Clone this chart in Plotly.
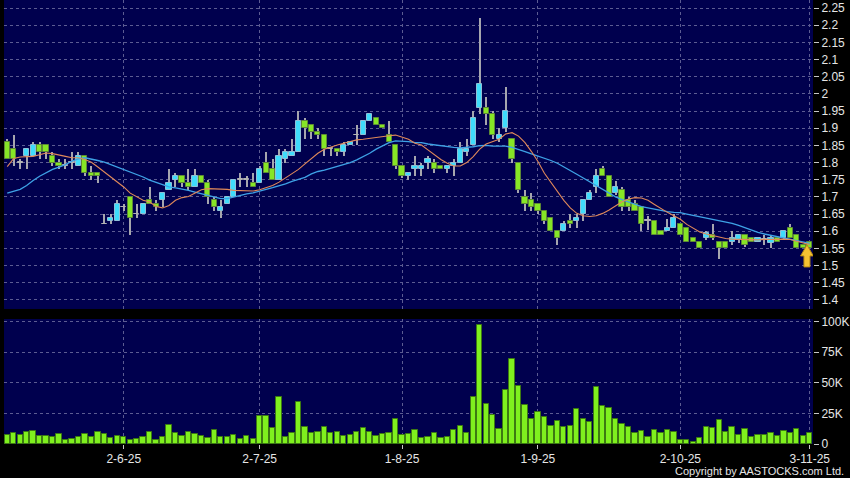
import pandas as pd
import plotly.graph_objects as go

# ---------------- data ----------------
holidays = ["2025-07-01", "2025-10-01", "2025-10-07", "2025-10-29"]
dates = [d.strftime("%Y-%m-%d") for d in pd.bdate_range("2025-05-07", "2025-11-03")
         if d.strftime("%Y-%m-%d") not in holidays]

open_ = [
    1.86, 1.84, 1.80, 1.82, 1.82, 1.85, 1.85, 1.82, 1.80, 1.79,
    1.80, 1.79, 1.82, 1.77, 1.77, 1.62, 1.63, 1.63, 1.67, 1.70,
    1.65, 1.65, 1.69, 1.68, 1.69, 1.72, 1.75, 1.76, 1.74, 1.73,
    1.76, 1.74, 1.69, 1.66, 1.68, 1.70, 1.75, 1.75, 1.74, 1.74,
    1.80, 1.78, 1.75, 1.81, 1.82, 1.83, 1.92, 1.91, 1.89, 1.88,
    1.84, 1.84, 1.83, 1.85, 1.88, 1.88, 1.92, 1.93, 1.91, 1.88,
    1.85, 1.79, 1.76, 1.78, 1.78, 1.80, 1.80, 1.79, 1.78, 1.79,
    1.80, 1.83, 1.85, 1.96, 1.96, 1.94, 1.87, 1.90, 1.87, 1.80,
    1.70, 1.69, 1.68, 1.66, 1.64, 1.60, 1.60, 1.63, 1.63, 1.65,
    1.69, 1.73, 1.78, 1.76, 1.71, 1.72, 1.69, 1.68, 1.67, 1.63,
    1.63, 1.60, 1.60, 1.61, 1.62, 1.61, 1.58, 1.57, 1.58, 1.59,
    1.57, 1.57, 1.57, 1.575, 1.59, 1.58, 1.57, 1.575, 1.565, 1.58,
    1.58, 1.61, 1.59, 1.56, 1.57]

high = [
    1.87, 1.88, 1.81, 1.84, 1.86, 1.86, 1.85, 1.83, 1.81, 1.81,
    1.83, 1.83, 1.82, 1.79, 1.77, 1.65, 1.65, 1.69, 1.68, 1.70,
    1.68, 1.68, 1.73, 1.69, 1.71, 1.78, 1.77, 1.76, 1.78, 1.78,
    1.76, 1.75, 1.70, 1.69, 1.70, 1.75, 1.77, 1.76, 1.77, 1.79,
    1.83, 1.81, 1.84, 1.84, 1.87, 1.95, 1.93, 1.91, 1.90, 1.88,
    1.84, 1.84, 1.86, 1.86, 1.91, 1.92, 1.94, 1.93, 1.91, 1.92,
    1.85, 1.79, 1.77, 1.82, 1.80, 1.82, 1.81, 1.79, 1.79, 1.81,
    1.86, 1.87, 1.95, 2.22, 1.99, 1.95, 1.90, 2.02, 1.87, 1.80,
    1.72, 1.71, 1.68, 1.66, 1.64, 1.60, 1.63, 1.65, 1.65, 1.69,
    1.72, 1.78, 1.79, 1.76, 1.745, 1.73, 1.70, 1.69, 1.67, 1.645,
    1.63, 1.60, 1.635, 1.65, 1.62, 1.61, 1.58, 1.57, 1.60, 1.62,
    1.57, 1.57, 1.60, 1.59, 1.59, 1.58, 1.58, 1.59, 1.59, 1.58,
    1.605, 1.62, 1.59, 1.56, 1.57]

low = [
    1.81, 1.79, 1.78, 1.78, 1.82, 1.81, 1.81, 1.79, 1.78, 1.78,
    1.78, 1.79, 1.76, 1.75, 1.74, 1.62, 1.62, 1.63, 1.66, 1.59,
    1.64, 1.65, 1.68, 1.66, 1.67, 1.72, 1.73, 1.73, 1.72, 1.73,
    1.74, 1.68, 1.66, 1.64, 1.68, 1.70, 1.73, 1.73, 1.73, 1.74,
    1.77, 1.75, 1.75, 1.80, 1.82, 1.83, 1.87, 1.87, 1.87, 1.82,
    1.82, 1.82, 1.82, 1.85, 1.85, 1.88, 1.92, 1.91, 1.90, 1.86,
    1.78, 1.755, 1.75, 1.76, 1.76, 1.78, 1.77, 1.78, 1.77, 1.76,
    1.80, 1.82, 1.85, 1.94, 1.91, 1.87, 1.86, 1.89, 1.80, 1.71,
    1.66, 1.66, 1.65, 1.62, 1.60, 1.56, 1.60, 1.61, 1.61, 1.63,
    1.69, 1.71, 1.76, 1.70, 1.705, 1.66, 1.66, 1.66, 1.60, 1.605,
    1.59, 1.59, 1.60, 1.61, 1.59, 1.57, 1.57, 1.55, 1.575, 1.575,
    1.52, 1.55, 1.56, 1.565, 1.555, 1.57, 1.57, 1.56, 1.55, 1.57,
    1.575, 1.58, 1.55, 1.55, 1.55]

close = [
    1.81, 1.81, 1.80, 1.84, 1.85, 1.83, 1.83, 1.80, 1.79, 1.79,
    1.80, 1.82, 1.77, 1.76, 1.76, 1.62, 1.64, 1.68, 1.67, 1.64,
    1.65, 1.68, 1.68, 1.67, 1.71, 1.74, 1.76, 1.74, 1.73, 1.76,
    1.74, 1.70, 1.67, 1.67, 1.70, 1.75, 1.75, 1.75, 1.73, 1.78,
    1.77, 1.75, 1.82, 1.83, 1.83, 1.92, 1.90, 1.89, 1.88, 1.84,
    1.84, 1.83, 1.85, 1.86, 1.88, 1.92, 1.94, 1.91, 1.90, 1.86,
    1.79, 1.76, 1.77, 1.79, 1.79, 1.81, 1.78, 1.78, 1.79, 1.80,
    1.84, 1.84, 1.93, 2.03, 1.94, 1.88, 1.88, 1.95, 1.81, 1.72,
    1.68, 1.67, 1.66, 1.63, 1.60, 1.58, 1.62, 1.62, 1.64, 1.69,
    1.71, 1.76, 1.76, 1.70, 1.73, 1.67, 1.67, 1.66, 1.62, 1.63,
    1.59, 1.59, 1.61, 1.64, 1.59, 1.57, 1.57, 1.55, 1.595, 1.58,
    1.55, 1.55, 1.58, 1.59, 1.56, 1.57, 1.58, 1.575, 1.58, 1.57,
    1.60, 1.58, 1.55, 1.55, 1.55]

ma10 = [
    1.788, 1.812, 1.816, 1.816, 1.818, 1.823, 1.828, 1.826, 1.823, 1.818,
    1.814, 1.814, 1.809, 1.801, 1.787, 1.772, 1.758, 1.743, 1.729, 1.711,
    1.700, 1.690, 1.685, 1.672, 1.668, 1.675, 1.690, 1.698, 1.701, 1.711,
    1.721, 1.724, 1.724, 1.724, 1.722, 1.719, 1.719, 1.717, 1.717, 1.721,
    1.727, 1.733, 1.743, 1.756, 1.768, 1.780, 1.796, 1.812, 1.827, 1.839,
    1.846, 1.851, 1.856, 1.861, 1.866, 1.868, 1.871, 1.874, 1.876, 1.878,
    1.880, 1.875, 1.868, 1.856, 1.851, 1.837, 1.822, 1.809, 1.798, 1.790,
    1.790, 1.800, 1.817, 1.839, 1.854, 1.861, 1.868, 1.883, 1.887, 1.877,
    1.858, 1.832, 1.803, 1.769, 1.742, 1.715, 1.690, 1.668, 1.652, 1.645,
    1.643, 1.645, 1.652, 1.662, 1.674, 1.686, 1.694, 1.698, 1.697, 1.690,
    1.678, 1.666, 1.655, 1.645, 1.635, 1.620, 1.608, 1.598, 1.592, 1.587,
    1.583, 1.579, 1.577, 1.576, 1.575, 1.575, 1.575, 1.576, 1.577, 1.577,
    1.577, 1.576, 1.572, 1.566, 1.561]

ma20 = [
    1.711, 1.717, 1.722, 1.733, 1.748, 1.760, 1.771, 1.780, 1.787, 1.794,
    1.804, 1.811, 1.814, 1.811, 1.806, 1.801, 1.794, 1.788, 1.781, 1.774,
    1.766, 1.758, 1.749, 1.743, 1.735, 1.729, 1.726, 1.723, 1.719, 1.714,
    1.709, 1.705, 1.700, 1.695, 1.695, 1.700, 1.704, 1.709, 1.712, 1.716,
    1.722, 1.727, 1.732, 1.738, 1.745, 1.751, 1.757, 1.767, 1.774, 1.778,
    1.783, 1.788, 1.793, 1.800, 1.808, 1.817, 1.827, 1.839, 1.848, 1.858,
    1.863, 1.863, 1.861, 1.858, 1.858, 1.854, 1.851, 1.848, 1.846, 1.844,
    1.843, 1.844, 1.846, 1.849, 1.850, 1.848, 1.848, 1.848, 1.844, 1.839,
    1.832, 1.825, 1.819, 1.812, 1.806, 1.798, 1.788, 1.777, 1.766, 1.755,
    1.744, 1.733, 1.722, 1.711, 1.700, 1.692, 1.685, 1.677, 1.672, 1.668,
    1.664, 1.660, 1.657, 1.655, 1.654, 1.650, 1.646, 1.642, 1.638, 1.635,
    1.632, 1.628, 1.623, 1.617, 1.610, 1.603, 1.597, 1.592, 1.588, 1.584,
    1.581, 1.578, 1.574, 1.569, 1.565]

volume_k = [
    7.3, 9.0, 7.3, 10.0, 10.6, 6.8, 6.8, 5.7, 7.9, 3.5,
    4.1, 5.7, 8.2, 5.7, 9.5, 8.4, 4.9, 6.5, 6.0, 3.3,
    4.1, 5.4, 10.0, 3.0, 5.4, 15.8, 9.0, 6.5, 9.5, 8.4,
    6.5, 4.6, 11.1, 5.4, 5.4, 7.6, 4.1, 6.3, 4.1, 22.6,
    22.8, 12.8, 38.6, 6.0, 9.2, 34.5, 13.6, 8.7, 9.8, 14.1,
    8.7, 10.0, 6.8, 7.6, 10.0, 13.0, 9.5, 6.5, 7.9, 9.0,
    20.1, 7.6, 8.2, 11.4, 5.2, 5.7, 8.7, 4.6, 5.7, 11.7,
    14.7, 9.2, 38.0, 96.7, 32.6, 23.4, 12.5, 44.0, 69.0, 47.3,
    31.5, 20.4, 26.1, 21.7, 14.7, 18.8, 14.1, 14.9, 28.5, 20.7,
    17.7, 46.2, 31.0, 29.0, 20.1, 16.0, 14.1, 9.2, 10.6, 6.0,
    11.4, 8.7, 11.4, 9.5, 3.3, 3.3, 1.4, 5.2, 13.6, 13.3,
    19.6, 9.8, 14.1, 7.3, 12.2, 5.4, 7.3, 7.3, 9.2, 6.8,
    10.9, 8.7, 12.0, 6.5, 8.7]

tick_dates = ["2025-06-02", "2025-07-02", "2025-08-01", "2025-09-01", "2025-10-02", "2025-11-03"]
tick_text = ["2-6-25", "2-7-25", "1-8-25", "1-9-25", "2-10-25", "3-11-25"]
price_ticks = [1.4, 1.45, 1.5, 1.55, 1.6, 1.65, 1.7, 1.75, 1.8, 1.85, 1.9, 1.95,
               2.0, 2.05, 2.1, 2.15, 2.2, 2.25]
price_tick_text = ["1.4", "1.45", "1.5", "1.55", "1.6", "1.65", "1.7", "1.75", "1.8",
                   "1.85", "1.9", "1.95", "2", "2.05", "2.1", "2.15", "2.2", "2.25"]
vol_ticks = [0, 25000, 50000, 75000, 100000]
vol_tick_text = ["0", "25K", "50K", "75K", "100K"]

# ---------------- styling ----------------
NAVY = "#00004e"
GRID = "#5c5c92"
UP_FILL, UP_LINE = "#3fdcfb", "#8fbfd6"
DN_FILL, DN_LINE = "#86e626", "#5e8a36"
DOJI = "#b4b4b4"
WICK = "#a6a6ae"
TXT = "#e6e6e6"

body_base, body_h, body_fill, body_line = [], [], [], []
for o, c in zip(open_, close):
    lo_b, hi_b = min(o, c), max(o, c)
    if c > o:
        body_fill.append(UP_FILL); body_line.append(UP_LINE)
    elif c < o:
        body_fill.append(DN_FILL); body_line.append(DN_LINE)
    else:
        body_fill.append(DOJI); body_line.append(DOJI)
    body_base.append(lo_b)
    body_h.append(max(hi_b - lo_b, 0.0015))

fig = go.Figure()

# wicks
fig.add_trace(go.Bar(x=dates, y=[h - l for h, l in zip(high, low)], base=low,
                     width=0.17, marker=dict(color=WICK, line=dict(width=0)),
                     xaxis="x", yaxis="y", hoverinfo="skip", showlegend=False))
# bodies
fig.add_trace(go.Bar(x=dates, y=body_h, base=body_base, width=0.8,
                     marker=dict(color=body_fill, line=dict(color=body_line, width=1)),
                     xaxis="x", yaxis="y", showlegend=False))
# moving averages
fig.add_trace(go.Scatter(x=dates, y=ma20, mode="lines",
                         line=dict(color="#3ea2e6", width=1.3),
                         xaxis="x", yaxis="y", showlegend=False))
fig.add_trace(go.Scatter(x=dates, y=ma10, mode="lines",
                         line=dict(color="#e0895a", width=1.1),
                         xaxis="x", yaxis="y", showlegend=False))
# volume
fig.add_trace(go.Bar(x=dates, y=[v * 1000 for v in volume_k], width=0.82,
                     marker=dict(color="#7ff01e", line=dict(color="#3d7a12", width=1)),
                     xaxis="x2", yaxis="y2", showlegend=False))

# up-arrow marker under the last candle
fig.add_shape(type="path", xref="x", yref="y", xsizemode="pixel", ysizemode="pixel",
              xanchor=dates[-1], yanchor=low[-1],
              path="M -2.8,3.5 L 3.6,-7.5 L 0.2,-7.5 L 0.2,-18.5 L -5.8,-18.5 L -5.8,-7.5 L -9.2,-7.5 Z",
              fillcolor="#f4c232", line=dict(color="#b98a12", width=1), layer="above")

xcommon = dict(type="category", range=[-0.5, len(dates) - 0.5], tickvals=tick_dates,
               showgrid=True, gridcolor=GRID, griddash="3px,3px", gridwidth=1,
               zeroline=False, showline=False, fixedrange=True)
ycommon = dict(side="right", showgrid=True, gridcolor=GRID, griddash="3px,3px",
               gridwidth=1, zeroline=False, showline=False, ticks="outside",
               ticklen=5, tickwidth=1, tickcolor="#c8c8c8", automargin=False,
               tickfont=dict(color=TXT, size=12, family="Liberation Sans, Arial"))

fig.update_layout(
    width=850, height=478,
    margin=dict(l=4, r=37, t=0, b=34, autoexpand=False),
    paper_bgcolor="#000000", plot_bgcolor=NAVY,
    barmode="overlay", bargap=0, showlegend=False,
    xaxis=dict(**xcommon, anchor="y", showticklabels=False, ticks=""),
    xaxis2=dict(**xcommon, anchor="y2", matches="x", ticktext=tick_text,
                ticks="outside", ticklen=4, tickcolor="#c8c8c8",
                tickfont=dict(color=TXT, size=12, family="Liberation Sans, Arial")),
    yaxis=dict(**ycommon, domain=[0.3041, 1.0], range=[1.3737, 2.2733],
               tickvals=price_ticks, ticktext=price_tick_text),
    yaxis2=dict(**ycommon, domain=[0.0, 0.2815], range=[0, 101900],
                tickvals=vol_ticks, ticktext=vol_tick_text),
    annotations=[dict(text="Copyright by AASTOCKS.com Ltd.", xref="paper", yref="paper",
                      x=1.0405, y=-0.061, xanchor="right", yanchor="middle",
                      showarrow=False,
                      font=dict(color=TXT, size=11, family="Liberation Sans, Arial"))],
)

fig.write_html("out.html", config={"displayModeBar": False},
               post_script="document.body.style.margin='0px';document.body.style.background='#000';")
